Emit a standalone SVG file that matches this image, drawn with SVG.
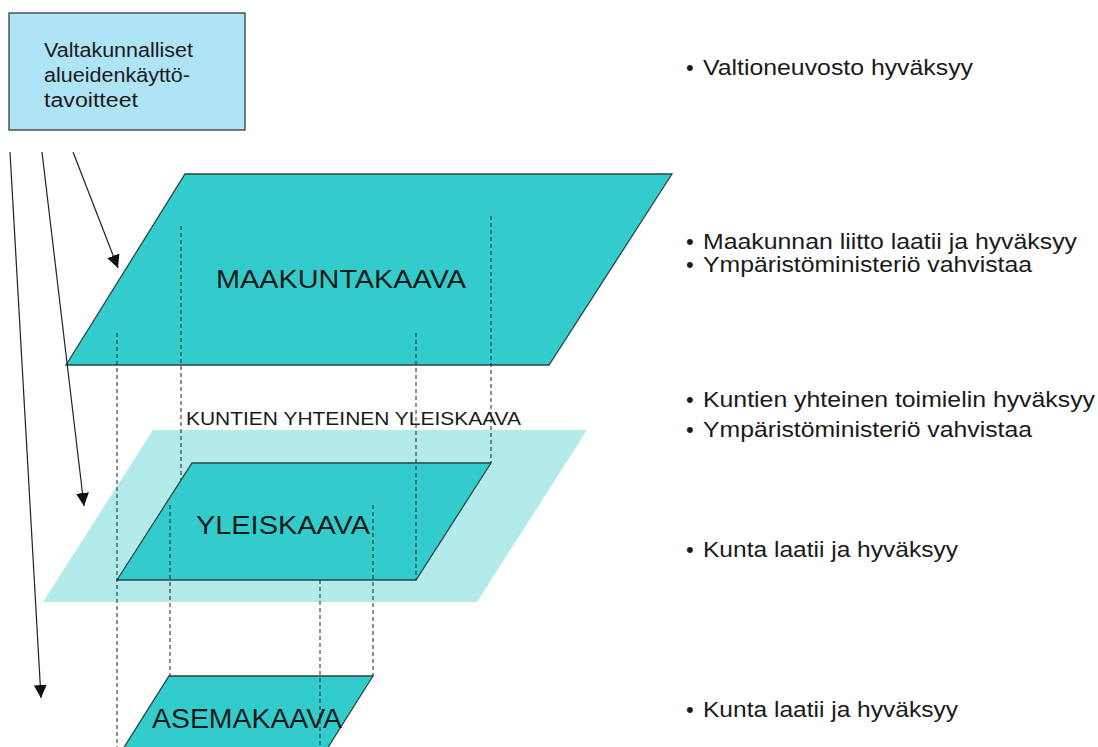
<svg xmlns="http://www.w3.org/2000/svg" width="1098" height="747" viewBox="0 0 1098 747">
  <defs>
    <marker id="ah" viewBox="0 0 12 12" refX="12" refY="6" markerWidth="13" markerHeight="13" markerUnits="userSpaceOnUse" orient="auto">
      <path d="M0,0 L12,6 L0,12 z" fill="#111"/>
    </marker>
  </defs>
  <style>
    .t { font-family: "Liberation Sans", Arial, sans-serif; fill: #1a1a1a; }
    .plan { fill: #33CCCC; stroke: #2b4545; stroke-width: 1.3; }
    .dash { stroke: #222; stroke-width: 1; stroke-dasharray: 4 3; fill: none; }
    .arrow { stroke: #222; stroke-width: 1.2; fill: none; }
    .note { font-size: 22px; }
  </style>
  <rect width="1098" height="747" fill="#ffffff"/>

  <g id="valtakunnalliset">
    <rect x="9" y="13" width="236" height="117" fill="#AEE4F5" stroke="#3a3a3a" stroke-width="1.3"/>
    <text class="t" font-size="20" x="44" y="57" textLength="149" lengthAdjust="spacingAndGlyphs">Valtakunnalliset</text>
    <text class="t" font-size="20" x="44" y="82" textLength="146" lengthAdjust="spacingAndGlyphs">alueidenkäyttö-</text>
    <text class="t" font-size="20" x="44" y="107" textLength="94" lengthAdjust="spacingAndGlyphs">tavoitteet</text>
  </g>

  <g id="maakuntakaava">
    <polygon class="plan" points="185,174 672,174 549,365 66,365"/>
    <text class="t" font-size="26" x="216" y="288" textLength="250" lengthAdjust="spacingAndGlyphs">MAAKUNTAKAAVA</text>
  </g>

  <g id="kuntien-yhteinen-yleiskaava">
    <polygon points="153,430 587,430 477,602 43,602" fill="#B3EBEB"/>
    <text class="t" font-size="19" x="186" y="425" textLength="335" lengthAdjust="spacingAndGlyphs">KUNTIEN YHTEINEN YLEISKAAVA</text>
  </g>

  <g id="yleiskaava">
    <polygon class="plan" points="192,463 491,463 416,580 117,580"/>
    <text class="t" font-size="26" x="196" y="534" textLength="174" lengthAdjust="spacingAndGlyphs">YLEISKAAVA</text>
  </g>

  <g id="asemakaava">
    <polygon class="plan" points="169,676 373,676 320,760 116,760"/>
    <text class="t" font-size="27" x="152" y="728" textLength="190" lengthAdjust="spacingAndGlyphs">ASEMAKAAVA</text>
  </g>

  <g id="connectors">
    <line class="dash" x1="117" y1="333" x2="117" y2="747"/>
    <line class="dash" x1="181" y1="226" x2="181" y2="480"/>
    <line class="dash" x1="416" y1="333" x2="416" y2="580"/>
    <line class="dash" x1="491" y1="216" x2="491" y2="463"/>
    <line class="dash" x1="170" y1="505" x2="170" y2="676"/>
    <line class="dash" x1="373" y1="505" x2="373" y2="676"/>
    <line class="dash" x1="320" y1="580" x2="320" y2="747"/>
    <line class="arrow" x1="73" y1="152" x2="118" y2="268" marker-end="url(#ah)"/>
    <line class="arrow" x1="42" y1="152" x2="84" y2="506" marker-end="url(#ah)"/>
    <line class="arrow" x1="10" y1="152" x2="41" y2="698" marker-end="url(#ah)"/>
  </g>

  <g id="notes">
    <text class="t note" x="686" y="75">•</text>
    <text class="t note" x="703" y="75" textLength="270" lengthAdjust="spacingAndGlyphs">Valtioneuvosto hyväksyy</text>
    <text class="t note" x="686" y="249">•</text>
    <text class="t note" x="703" y="249" textLength="374" lengthAdjust="spacingAndGlyphs">Maakunnan liitto laatii ja hyväksyy</text>
    <text class="t note" x="686" y="272">•</text>
    <text class="t note" x="703" y="272" textLength="329" lengthAdjust="spacingAndGlyphs">Ympäristöministeriö vahvistaa</text>
    <text class="t note" x="686" y="407">•</text>
    <text class="t note" x="703" y="407" textLength="392" lengthAdjust="spacingAndGlyphs">Kuntien yhteinen toimielin hyväksyy</text>
    <text class="t note" x="686" y="437">•</text>
    <text class="t note" x="703" y="437" textLength="329" lengthAdjust="spacingAndGlyphs">Ympäristöministeriö vahvistaa</text>
    <text class="t note" x="686" y="557">•</text>
    <text class="t note" x="703" y="557" textLength="255" lengthAdjust="spacingAndGlyphs">Kunta laatii ja hyväksyy</text>
    <text class="t note" x="686" y="717">•</text>
    <text class="t note" x="703" y="717" textLength="255" lengthAdjust="spacingAndGlyphs">Kunta laatii ja hyväksyy</text>
  </g>
</svg>
